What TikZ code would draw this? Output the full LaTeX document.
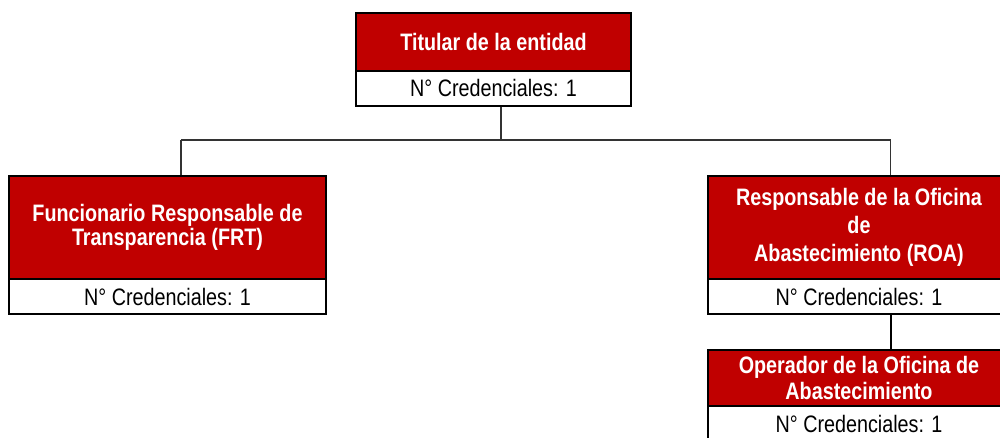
\documentclass[tikz,border=0pt]{standalone}
\usepackage{fontspec}
\setmainfont[FakeStretch=0.83]{Liberation Sans}
\definecolor{hdr}{HTML}{C00000}
\definecolor{conn}{HTML}{333333}
\begin{document}
\begin{tikzpicture}[x=1pt,y=-1pt,
  hdrbox/.style={draw=black,line width=2pt,fill=hdr,text=white,inner sep=0pt,align=center,
     font=\fontsize{23.8}{26}\selectfont\bfseries},
  credbox/.style={draw=black,line width=2pt,fill=white,text=black,inner sep=0pt,
     minimum height=35pt,font=\fontsize{23.8}{26}\selectfont},
  link/.style={draw=conn,line width=1.7pt}]
\useasboundingbox (0,0) rectangle (1000,437);
\clip (0,0) rectangle (1000,437);
% top
\node[hdrbox,minimum width=275pt,minimum height=57.7pt] (tr) at (493.5,41.85) {Titular de la entidad};
\node[credbox,minimum width=275pt] (tw) at (493.5,88.35) {N° Credenciales: 1};
% left
\node[hdrbox,minimum width=317pt,minimum height=103pt,font=\fontsize{23.8}{24}\selectfont\bfseries] (lr) at (167.5,227.5) {Funcionario Responsable de\\Transparencia (FRT)};
\node[credbox,minimum width=317pt] (lw) at (167.5,296.5) {N° Credenciales: 1};
% right
\node[hdrbox,minimum width=302pt,minimum height=103pt,font=\fontsize{23.8}{28}\selectfont\bfseries] (rr) at (859,227.5) {Responsable de la Oficina\\de\\Abastecimiento (ROA)};
\node[credbox,minimum width=302pt] (rw) at (859,296.5) {N° Credenciales: 1};
% bottom
\node[hdrbox,minimum width=302pt,minimum height=56pt,font=\fontsize{23.8}{25.7}\selectfont\bfseries] (br) at (859,378) {Operador de la Oficina de\\Abastecimiento};
\node[credbox,minimum width=302pt] (bw) at (859,423.5) {N° Credenciales: 1};
% connectors
\coordinate (j) at (501,140);
\coordinate (hl) at (181,140);
\coordinate (hr) at (890.5,140);
\draw[link] (tw.south -| j) -- (j);
\draw[link] (hl) -- (hr);
\draw[link] (hl) -- (hl |- lr.north);
\draw[link] (hr) -- (hr |- rr.north);
\draw[link,draw=black,line width=2pt] (rw.south -| hr) -- (br.north -| hr);
\end{tikzpicture}
\end{document}
